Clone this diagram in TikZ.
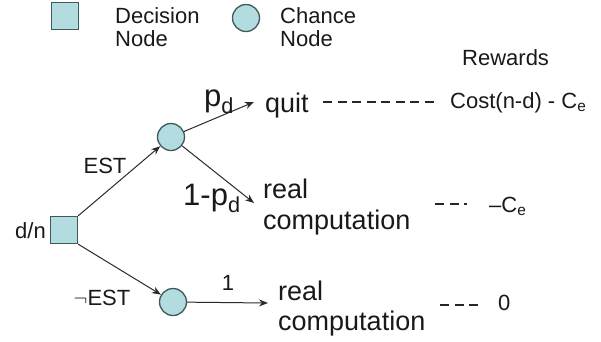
\documentclass[tikz,border=0pt]{standalone}
\usepackage{fontspec}
\setmainfont{Liberation Sans}
\usetikzlibrary{arrows.meta}
\definecolor{nodefill}{HTML}{B2DCE0}
\definecolor{nodeedge}{HTML}{3F5858}
\definecolor{linecol}{HTML}{2A2A2A}
\tikzset{
  decision/.style={draw=nodeedge, fill=nodefill, line width=1.3pt, minimum size=27pt, inner sep=0pt},
  chance/.style={draw=nodeedge, fill=nodefill, line width=1.3pt, circle, minimum size=27pt, inner sep=0pt},
  lbl/.style={font=\fontsize{22}{22}\selectfont, inner sep=0pt, text=black!90},
  outc/.style={font=\fontsize{27}{31}\selectfont, inner sep=0pt, align=left, text=black!90},
  prob/.style={font=\fontsize{31}{31}\selectfont, inner sep=0pt, text=black!90},
  arr/.style={draw=linecol, line width=1pt, -{Stealth[length=9pt,width=7pt]}},
  rew/.style={draw=black!85, line width=2.6pt, dash pattern=on 9pt off 5.5pt},
}
\begin{document}
\begin{tikzpicture}[x=1pt,y=-1pt]
\useasboundingbox (0,0) rectangle (601,341);
% legend
\node[decision] (legsq) at (65,16) {};
\node[lbl, anchor=base west, align=left] (legdec) at (115,23) {Decision};
\node[lbl, anchor=base west] (legdec2) at (115,46) {Node};
\node[chance] (legci) at (246,18) {};
\node[lbl, anchor=base west] (legch) at (280,23) {Chance};
\node[lbl, anchor=base west] (legch2) at (280,46) {Node};
\node[lbl, anchor=base west] (rewards) at (462,65) {Rewards};
% tree
\node[decision] (root) at (64,230) {};
\node[lbl, anchor=east] (dn) at (46,231) {d/n};
\node[chance] (c1) at (171,137) {};
\node[chance] (c2) at (173,302) {};
\coordinate (q) at (254,102);
\coordinate (r1) at (254,203);
\coordinate (r2) at (268,303);
\draw[arr] (root.north east) -- (c1);
\draw[arr] (root.south east) -- (c2);
\draw[arr] (c1) -- (q);
\draw[arr] (c1) -- (r1);
\draw[arr] (c2) -- (r2);
\node[lbl, anchor=base] (est) at (105,173) {EST};
\node[lbl, anchor=base] (nest) at (102,305) {$\neg$EST};
\node[lbl, anchor=base] (one) at (228,290) {1};
\node[prob, anchor=base west] (pd) at (204,106) {p\textsubscript{d}};
\node[prob, anchor=base west] (qpd) at (183,205) {1-p\textsubscript{d}};
% outcomes
\node[outc, anchor=base west] (quit) at (265,112) {quit};
\node[outc, anchor=base west] (real1) at (263,198) {real};
\node[outc, anchor=base west] (comp1) at (263,229) {computation};
\node[outc, anchor=base west] (real2) at (278,300) {real};
\node[outc, anchor=base west] (comp2) at (278,330) {computation};
% rewards
\node[lbl, anchor=base west] (rw1) at (450,108) {Cost(n-d) - C\textsubscript{e}};
\node[lbl, anchor=base west] (rw2) at (489,212) {\textendash C\textsubscript{e}};
\node[lbl, anchor=base west] (rw3) at (498,310) {0};
\coordinate (d1a) at (323,102);
\coordinate (d1b) at (436,102);
\coordinate (d2a) at (435,204);
\coordinate (d2b) at (467,204);
\coordinate (d3a) at (440,305);
\coordinate (d3b) at (482,305);
\draw[rew] (d1a) -- (d1b);
\draw[rew] (d2a) -- (d2b);
\draw[rew] (d3a) -- (d3b);
\end{tikzpicture}
\end{document}
